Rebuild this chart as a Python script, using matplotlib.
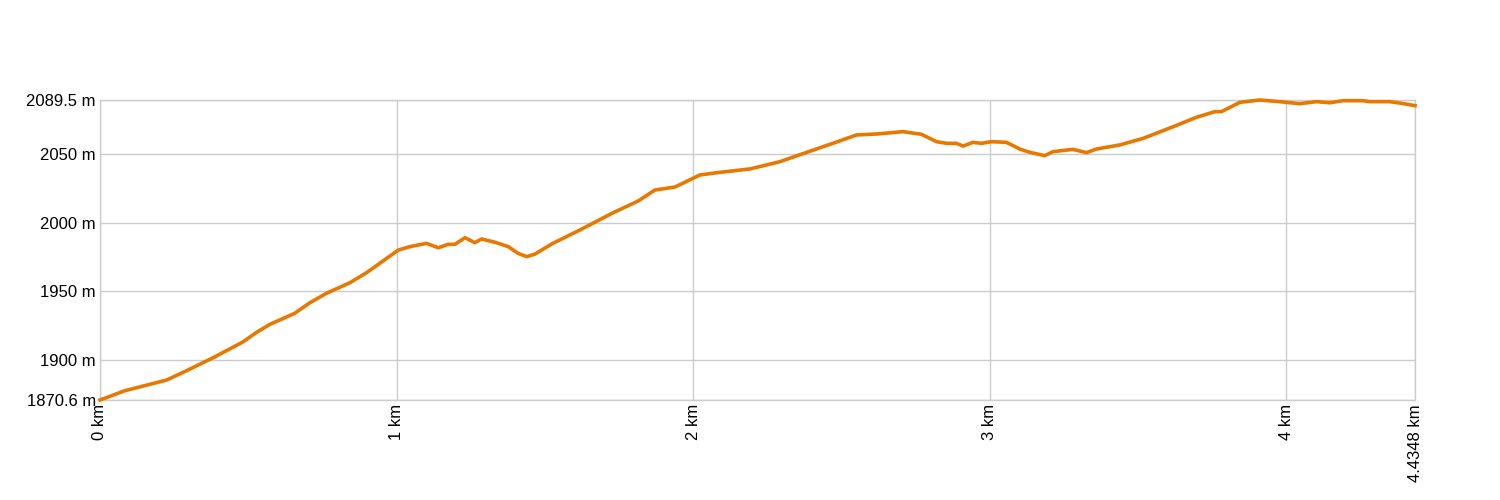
import numpy as np
import matplotlib
matplotlib.use("Agg")
import matplotlib.pyplot as plt

plt.rcParams["font.family"] = ["Liberation Sans", "DejaVu Sans"]

# elevation profile (distance in km, elevation in m)
dist_km = [0.000, 0.084, 0.146, 0.225, 0.292, 0.382, 0.483, 0.528, 0.573, 0.657,
           0.708, 0.764, 0.843, 0.899, 0.967, 1.006, 1.045, 1.101, 1.141, 1.174,
           1.197, 1.231, 1.264, 1.287, 1.332, 1.377, 1.410, 1.439, 1.467, 1.528,
           1.618, 1.731, 1.815, 1.871, 1.939, 2.023, 2.090, 2.192, 2.293, 2.383,
           2.472, 2.551, 2.619, 2.708, 2.770, 2.821, 2.855, 2.888, 2.911, 2.944,
           2.973, 3.006, 3.057, 3.102, 3.136, 3.186, 3.214, 3.281, 3.327, 3.360,
           3.439, 3.518, 3.619, 3.698, 3.760, 3.782, 3.844, 3.911, 3.978, 4.046,
           4.102, 4.147, 4.192, 4.259, 4.282, 4.349, 4.389, 4.4348]
elev_m = [1870.6, 1877.4, 1880.8, 1885.2, 1892.0, 1901.5, 1913.1, 1920.0, 1925.8, 1933.9,
          1941.6, 1948.5, 1956.2, 1963.5, 1974.0, 1980.0, 1982.5, 1984.9, 1981.7, 1984.2,
          1984.2, 1989.0, 1985.4, 1988.1, 1985.7, 1982.5, 1977.6, 1975.2, 1977.1, 1985.0,
          1994.6, 2007.3, 2015.8, 2023.8, 2026.0, 2034.8, 2036.7, 2039.2, 2044.5, 2051.3,
          2057.9, 2064.0, 2064.7, 2066.4, 2064.5, 2059.1, 2057.9, 2057.9, 2055.9, 2058.6,
          2057.9, 2059.1, 2058.6, 2053.7, 2051.3, 2048.9, 2051.8, 2053.5, 2051.1, 2053.7,
          2056.7, 2061.5, 2070.0, 2076.9, 2081.0, 2081.0, 2087.8, 2089.5, 2088.3, 2086.8,
          2088.3, 2087.5, 2089.0, 2089.0, 2088.3, 2088.3, 2087.1, 2085.4]

x_ticks = [0, 1, 2, 3, 4, 4.4348]
x_labels = ["0 km", "1 km", "2 km", "3 km", "4 km", "4.4348 km"]
y_ticks = [1870.6, 1900, 1950, 2000, 2050, 2089.5]
y_labels = ["1870.6 m", "1900 m", "1950 m", "2000 m", "2050 m", "2089.5 m"]

fig = plt.figure(figsize=(15, 5), dpi=100)
ax = fig.add_axes([100 / 1500, 0.2, 1315 / 1500, 0.6])

ax.plot(dist_km, elev_m, color="#E87800", linewidth=2.6, zorder=3, clip_on=False)

ax.set_xlim(0, 4.4348)
ax.set_ylim(1870.6, 2089.5)
ax.set_xticks(x_ticks)
ax.set_xticklabels(x_labels, rotation=90, va="top", ha="center")
ax.set_yticks(y_ticks)
ax.set_yticklabels(y_labels)
ax.tick_params(length=0, labelsize=12, pad=3, colors="black")
ax.grid(True, color="#cccccc", linewidth=1)
ax.set_axisbelow(True)
for s in ax.spines.values():
    s.set_color("#cccccc")
    s.set_linewidth(1)

fig.savefig("out.png", dpi=100)
